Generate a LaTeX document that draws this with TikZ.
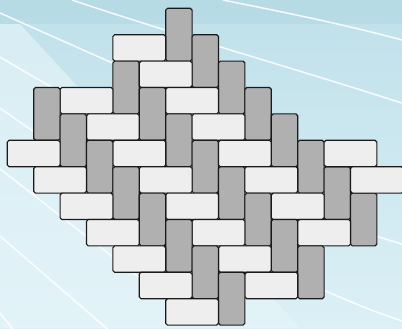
\documentclass[tikz,border=0pt]{standalone}
\usepackage{tikz}
\definecolor{bgtop}{HTML}{BFE0EA}
\definecolor{bgbottom}{HTML}{DCF0F6}
\definecolor{bandtop}{HTML}{B2D8E3}
\definecolor{glow}{HTML}{E8F6FA}
\definecolor{lightbrick}{HTML}{EEEEEE}
\definecolor{darkbrick}{HTML}{B0B0B0}
\definecolor{edge}{HTML}{1A1A1A}
\begin{document}
\begin{tikzpicture}[x=0.66cm,y=-0.66cm,
brick/.style={draw=edge,line width=0.8pt,rounded corners=1.3pt},
hbrick/.style={brick,fill=lightbrick},
vbrick/.style={brick,fill=darkbrick},
streak/.style={white,line width=1.1pt,opacity=0.85}]
\useasboundingbox(-0.2765,-0.3144)rectangle(14.9508,12.1098);
\begin{scope}
\clip(-0.2765,-0.3144)rectangle(14.9508,12.1098);
\shade[top color=bgtop,bottom color=bgbottom](-0.2765,-0.3144)rectangle(14.9508,12.1098);
\fill[bandtop,opacity=0.6](-0.2765,-0.3144)rectangle(14.9508,0.595);
\fill[glow,opacity=0.6](-0.2765,0.595)--(0.481,0.595)--(11.09,12.1098)--(-0.2765,12.1098)--cycle;
\draw[streak](-0.2765,0.178)--(5.03,2.54);
\draw[streak](-0.2765,1.845)..controls(5.405,5.25)and(11.16,7.83)..(14.95,8.93);
\draw[streak](-0.2765,3.777)..controls(3.51,6.54)and(11.16,10.63)..(14.95,11.84);
\draw[streak](2.45,-0.314)..controls(6.16,0.936)and(11.08,2.34)..(14.95,3.59);
\draw[streak](8.16,-0.314)..controls(10.5,0.15)and(12.8,0.62)..(14.95,1.2);
\draw[streak](-0.2765,6.08)--(5.405,10.52);
\draw[streak](-0.2765,8.625)--(3.85,12.2);
\draw[streak](-0.2765,11.54)--(0.25,12.2);
\foreach \k in {0,...,7}{
\draw[vbrick](6+\k,\k)rectangle++(1,2);
\draw[hbrick](4+\k,1+\k)rectangle++(2,1);
\draw[vbrick](4+\k,2+\k)rectangle++(1,2);
\draw[hbrick](2+\k,3+\k)rectangle++(2,1);
\draw[vbrick](1+\k,3+\k)rectangle++(1,2);}
\foreach \k in {0,...,6}\draw[hbrick](\k,5+\k)rectangle++(2,1);
\draw[hbrick](12,5)rectangle++(2,1);
\draw[hbrick](13,6)rectangle++(2,1);
\end{scope}
\end{tikzpicture}
\end{document}
